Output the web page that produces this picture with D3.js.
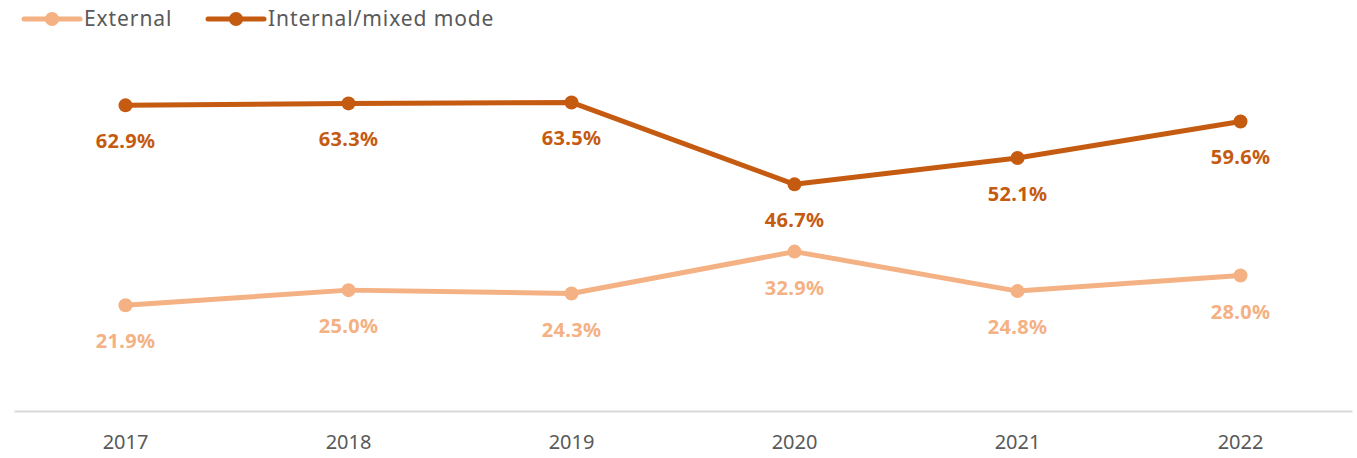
<!DOCTYPE html>
<html lang="en">
<head>
    <meta charset="UTF-8">
    <title>External vs Internal/mixed mode</title>
    <script src="https://d3js.org/d3.v7.min.js"></script>
    <style>
        body { margin: 0; background: #fff; font-family: "Noto Sans", sans-serif; }
    </style>
</head>
<body>
    <svg width="1357" height="458"></svg>
    <script>
        const years = ["2017", "2018", "2019", "2020", "2021", "2022"];
        const external = [21.9, 25.0, 24.3, 32.9, 24.8, 28.0];
        const internalMixed = [62.9, 63.3, 63.5, 46.7, 52.1, 59.6];
        const seriesNames = ["External", "Internal/mixed mode"];
        const seriesColors = ["#F4B183", "#C55A11"];

        const series = [
            { name: seriesNames[0], color: seriesColors[0], values: external },
            { name: seriesNames[1], color: seriesColors[1], values: internalMixed }
        ];

        const svg = d3.select("svg");

        const x = d3.scaleBand()
            .domain(years)
            .range([14, 1352]);

        const y = d3.scaleLinear()
            .domain([0, 80])
            .range([412, 22]);

        // x axis
        const xAxis = svg.append("g")
            .attr("transform", "translate(0,411)")
            .call(d3.axisBottom(x).tickSize(0).tickPadding(24));
        xAxis.select(".domain").attr("stroke", "#D9D9D9").attr("stroke-width", 2);
        xAxis.selectAll("text")
            .attr("font-family", "Noto Sans, sans-serif")
            .attr("font-size", 20)
            .attr("fill", "#595959");

        const line = d3.line()
            .x((d, i) => x(years[i]) + x.bandwidth() / 2)
            .y(d => y(d));

        series.forEach(s => {
            const g = svg.append("g");
            g.append("path")
                .datum(s.values)
                .attr("fill", "none")
                .attr("stroke", s.color)
                .attr("stroke-width", 5)
                .attr("stroke-linejoin", "round")
                .attr("d", line);

            g.selectAll("circle")
                .data(s.values)
                .enter().append("circle")
                .attr("cx", (d, i) => x(years[i]) + x.bandwidth() / 2)
                .attr("cy", d => y(d))
                .attr("r", 7)
                .attr("fill", s.color);

            g.selectAll("text")
                .data(s.values)
                .enter().append("text")
                .attr("x", (d, i) => x(years[i]) + x.bandwidth() / 2)
                .attr("y", d => y(d) + 43)
                .attr("text-anchor", "middle")
                .attr("font-size", 20)
                .attr("font-weight", "bold")
                .attr("letter-spacing", 0.3)
                .attr("fill", s.color)
                .text(d => d.toFixed(1) + "%");
        });

        // legend
        const legendX = [24, 208];
        const legend = svg.append("g");
        series.forEach((s, i) => {
            const lg = legend.append("g").attr("transform", `translate(${legendX[i]},19)`);
            lg.append("line")
                .attr("x1", 0).attr("x2", 56)
                .attr("stroke", s.color)
                .attr("stroke-width", 5)
                .attr("stroke-linecap", "round");
            lg.append("circle")
                .attr("cx", 28)
                .attr("r", 7)
                .attr("fill", s.color);
            lg.append("text")
                .attr("x", 60)
                .attr("y", 7)
                .attr("font-size", 21)
                .attr("letter-spacing", 0.9)
                .attr("fill", "#595959")
                .text(s.name);
        });
    </script>
</body>
</html>
